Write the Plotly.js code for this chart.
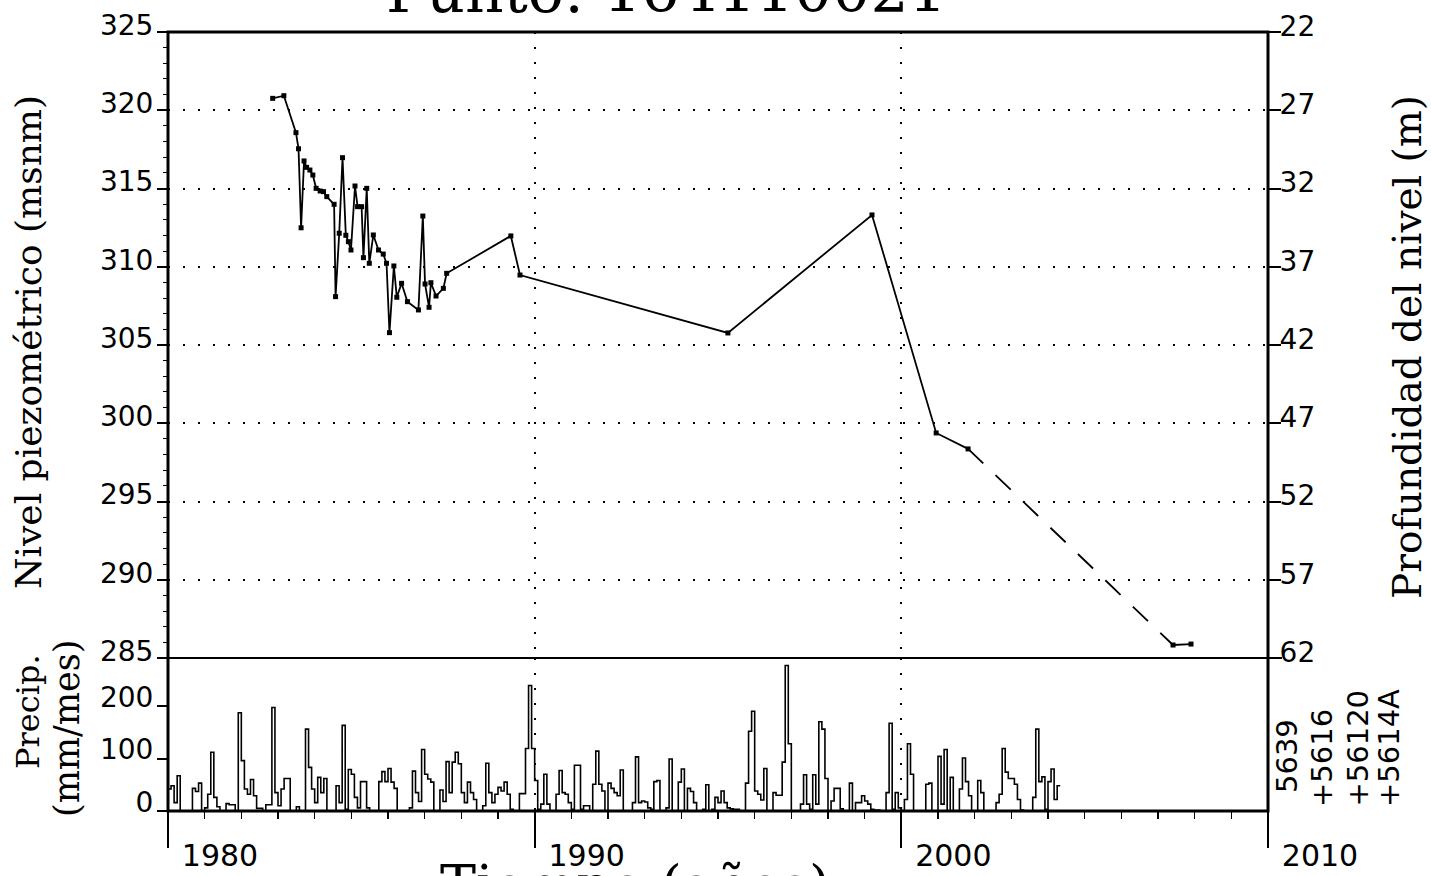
<!DOCTYPE html>
<html><head><meta charset="utf-8">
<script src="https://cdn.plot.ly/plotly-3.0.1.min.js"></script>
<style>html,body{margin:0;padding:0;background:#fff}#chart{width:1431px;height:876px}</style>
</head><body><div id="chart"></div>
<script>
// ---- data ----
const chartTitle = 'Punto: 164110021';
const levelYears = [1982.855,1983.16,1983.49,1983.56,1983.63,1983.71,1983.78,1983.87,1983.95,1984.04,1984.15,1984.24,1984.33,1984.53,1984.57,1984.67,1984.76,1984.85,1984.92,1984.99,1985.10,1985.17,1985.28,1985.33,1985.42,1985.49,1985.60,1985.74,1985.87,1985.96,1986.04,1986.16,1986.24,1986.37,1986.53,1986.83,1986.95,1987.01,1987.12,1987.17,1987.31,1987.51,1987.60,1989.35,1989.60,1995.27,1999.20,2000.95,2001.82];
const levelValues = [320.76,320.93,318.57,317.54,312.49,316.76,316.35,316.18,315.86,315.01,314.84,314.80,314.48,313.99,308.09,312.14,316.97,312.01,311.60,311.07,315.16,313.84,313.84,310.58,315.01,310.22,312.03,311.07,310.81,310.22,305.79,310.05,308.05,308.94,307.77,307.24,313.24,308.90,307.41,308.98,308.13,308.62,309.58,311.97,309.47,305.77,313.31,299.38,298.36];
const gapYears = [2001.82, 2007.41];
const gapValues = [298.36, 285.83];
const lastYears = [2007.41, 2007.90];
const lastValues = [285.83, 285.89];
const precipStartYear = 1980;
const precipMonthly = [
  42,48,16,67,0,0,0,0,43,37,53,0,        // 1980
  6,32,112,26,8,0,0,14,12,12,0,187,      // 1981
  96,42,32,60,29,5,5,0,12,12,197,35,     // 1982
  10,42,62,62,0,0,8,0,0,156,83,42,       // 1983
  16,64,35,62,0,0,0,48,16,163,3,79,      // 1984
  70,26,6,56,56,6,0,0,0,56,75,56,        // 1985
  81,55,43,0,0,0,0,6,76,35,18,117,       // 1986
  70,61,55,0,0,40,18,94,35,93,112,90,    // 1987
  35,16,55,35,22,0,0,10,91,35,16,32,     // 1988
  45,38,55,32,3,0,0,33,33,119,239,119,   // 1989
  58,3,13,70,13,0,0,32,77,35,32,16,      // 1990
  3,87,87,3,10,10,0,51,114,51,38,0,      // 1991
  53,43,35,29,78,0,0,0,16,103,16,19,     // 1992
  17,6,3,56,58,0,0,6,99,0,0,55,          // 1993
  80,0,43,37,16,0,0,3,50,0,3,26,         // 1994
  16,38,16,6,4,3,3,0,0,53,152,190,       // 1995
  38,32,21,81,0,0,35,30,30,93,277,128,   // 1996
  0,0,0,13,69,13,3,69,13,170,156,62,     // 1997
  0,19,43,43,4,0,0,53,0,16,16,29,        // 1998
  19,13,3,2,2,0,0,35,167,3,35,6,         // 1999
  0,22,128,70,0,0,0,0,51,53,0,0,         // 2000
  104,13,117,0,64,0,0,42,101,56,29,0,    // 2001
  0,58,35,0,0,0,0,16,32,119,74,62,       // 2002
  62,51,22,2,0,0,0,26,156,56,65,3,       // 2003
  56,80,22,48                            // 2004
];
const yearTicks = [1980,1990,2000,2010];
const levelTicks = [285,290,295,300,305,310,315,320,325];
const depthTicks = [22,27,32,37,42,47,52,57,62];
const depthOffset = 347;      // depth = 347 - level
const precipTicks = [0,100,200];
const stationLabels = ['5639','+5616','+56120','+5614A'];
const leftTitle = 'Nivel piezométrico (msnm)';
const rightTitle = 'Profundidad del nivel (m)';
const precipTitle1 = 'Precip.';
const precipTitle2 = '(mm/mes)';
const xTitle = 'Tiempo (años)';

// ---- derived ----
const px = [], py = [];
precipMonthly.forEach((v,i)=>{ px.push(precipStartYear + i/12); py.push(v); });
px.push(precipStartYear + precipMonthly.length/12); py.push(precipMonthly[precipMonthly.length-1]);

const W = 1431, H = 876;
const L = 168, R = 1268, T = 32, B = 811, SEP = 658;
const split = (B - SEP) / (B - T);
const fx = p => (p - L) / (R - L);
const fy = p => (B - p) / (B - T);

const tickFont = {family:'DejaVu Sans', size:28, color:'#000'};
const serif = '"DejaVu Serif", serif';
const gridDash = '2px,13px';

const traces = [
  {x: px, y: py, xaxis:'x', yaxis:'y', type:'scatter', mode:'lines',
   line:{shape:'hv', color:'#000', width:1.6}, hoverinfo:'skip'},
  {x: levelYears, y: levelValues, xaxis:'x2', yaxis:'y2', type:'scatter', mode:'lines+markers',
   line:{color:'#000', width:1.8}, marker:{symbol:'square', size:5, color:'#000'}},
  {x: gapYears, y: gapValues, xaxis:'x2', yaxis:'y2', type:'scatter', mode:'lines',
   line:{color:'#000', width:1.8, dash:'21px,17px'}},
  {x: lastYears, y: lastValues, xaxis:'x2', yaxis:'y2', type:'scatter', mode:'lines+markers',
   line:{color:'#000', width:1.8}, marker:{symbol:'square', size:5, color:'#000'}},
  {x: levelYears, y: levelValues.map(v=>depthOffset - v), xaxis:'x2', yaxis:'y3', type:'scatter', mode:'lines',
   line:{color:'rgba(0,0,0,0)', width:0}, hoverinfo:'skip'}
];

const layout = {
  width: W, height: H,
  margin: {l: L, r: W - R, t: T, b: H - B, pad: 0},
  paper_bgcolor:'#fff', plot_bgcolor:'#fff',
  showlegend:false,
  xaxis: {domain:[0,1], anchor:'y', range:[1980,2010], tickvals:yearTicks, ticktext:yearTicks.map(String),
    ticks:'outside', ticklen:36, tickwidth:2, tickcolor:'#000', tickfont:{family:'DejaVu Sans', size:30, color:'#000'},
    ticklabelshift:52, ticklabelstandoff:-18,
    showgrid:true, gridcolor:'#000', gridwidth:2, griddash:gridDash,
    minor:{dtick:1, ticks:'outside', ticklen:7, tickwidth:1.5, tickcolor:'#000', showgrid:false},
    showline:false, zeroline:false},
  xaxis2: {domain:[0,1], anchor:'y2', matches:'x', range:[1980,2010], tickvals:yearTicks, showticklabels:false, ticks:'',
    showgrid:true, gridcolor:'#000', gridwidth:2, griddash:gridDash, showline:false, zeroline:false},
  yaxis: {domain:[0, split], anchor:'x', range:[0, (B-SEP)/0.525], tickvals:precipTicks, ticks:'outside', ticklen:10, tickwidth:2,
    tickcolor:'#000', tickfont:tickFont, ticklabelshift:-9, ticklabelstandoff:-2, showgrid:false, zeroline:false, showline:false},
  yaxis2: {domain:[split, 1], anchor:'x2', range:[285,325], tickvals:levelTicks, ticks:'outside', ticklen:10, tickwidth:2,
    tickcolor:'#000', tickfont:tickFont, ticklabelshift:-7, ticklabelstandoff:-2,
    showgrid:true, gridcolor:'#000', gridwidth:2, griddash:gridDash, zeroline:false, showline:false,
    minor:{dtick:1, ticks:'outside', ticklen:4, tickwidth:1, tickcolor:'#000', showgrid:false}},
  yaxis3: {overlaying:'y2', anchor:'x2', side:'right', range:[62,22], tickvals:depthTicks, ticks:'outside', ticklen:12, tickwidth:2,
    tickcolor:'#000', tickfont:tickFont, ticklabelshift:6, ticklabelstandoff:-7, showgrid:false, zeroline:false, showline:false},
  shapes: [
    {type:'rect', xref:'paper', yref:'paper', x0:0, x1:1, y0:0, y1:1, line:{color:'#000', width:3}},
    {type:'line', xref:'paper', yref:'paper', x0:0, x1:fx(1282), y0:split, y1:split, line:{color:'#000', width:2}}
  ],
  annotations: [
    {text: chartTitle, xref:'paper', yref:'paper', x:fx(666), y:fy(28), xanchor:'center', yanchor:'bottom', showarrow:false,
     font:{family:serif, size:60, color:'#000'}},
    {text: xTitle, xref:'paper', yref:'paper', x:fx(635), y:fy(852), xanchor:'center', yanchor:'top', showarrow:false,
     font:{family:serif, size:54, color:'#000'}},
    {text: leftTitle, xref:'paper', yref:'paper', x:fx(28), y:fy(342), xanchor:'center', yanchor:'middle', textangle:-90, showarrow:false,
     font:{family:serif, size:36, color:'#000'}},
    {text: rightTitle, xref:'paper', yref:'paper', x:fx(1407), y:fy(347), xanchor:'center', yanchor:'middle', textangle:-90, showarrow:false,
     font:{family:serif, size:39, color:'#000'}},
    {text: precipTitle1, xref:'paper', yref:'paper', x:fx(28), y:fy(712), xanchor:'center', yanchor:'middle', textangle:-90, showarrow:false,
     font:{family:serif, size:32, color:'#000'}},
    {text: precipTitle2, xref:'paper', yref:'paper', x:fx(67), y:fy(729), xanchor:'center', yanchor:'middle', textangle:-90, showarrow:false,
     font:{family:serif, size:35, color:'#000'}}
  ].concat(stationLabels.map((s,i)=>({
     text:s, xref:'paper', yref:'paper', x:fx([1287,1322,1357,1389][i]), y:fy(i===0?795:809),
     xanchor:'center', yanchor:'bottom', textangle:-90, showarrow:false,
     font:{family:'DejaVu Sans', size:29, color:'#000'}})))
};

Plotly.newPlot('chart', traces, layout, {staticPlot:true, displayModeBar:false});
</script>
</body></html>
